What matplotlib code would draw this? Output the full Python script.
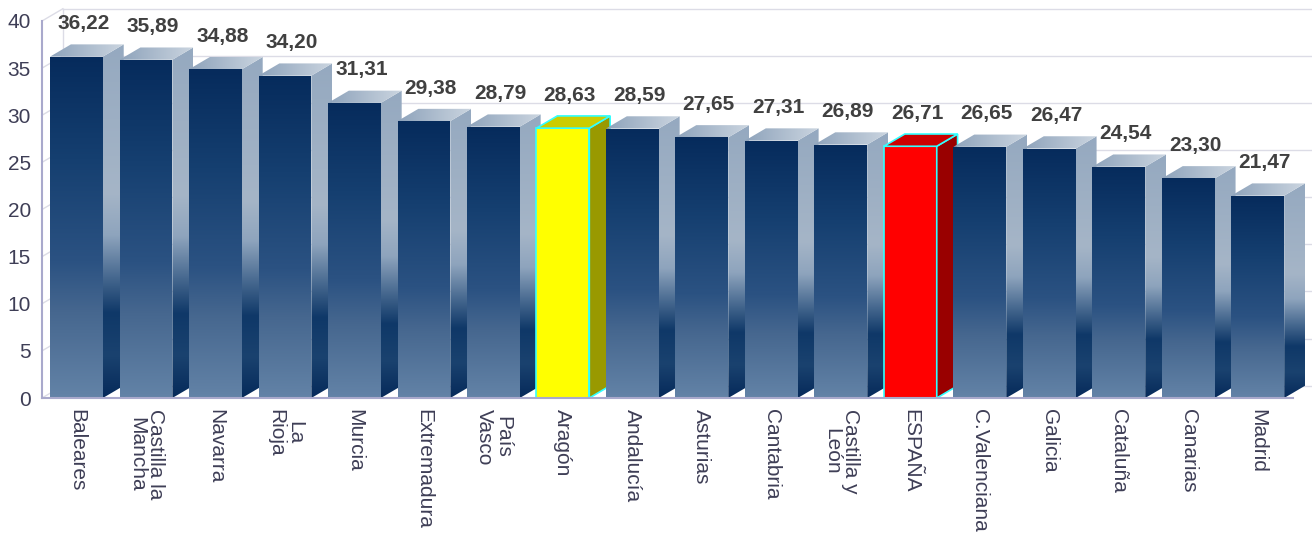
import numpy as np
import matplotlib.pyplot as plt
from matplotlib.patches import Polygon
from matplotlib.colors import LinearSegmentedColormap

plt.rcParams['font.family'] = ['Liberation Sans', 'DejaVu Sans']

regions = ['Baleares', 'Castilla la\nMancha', 'Navarra', 'La\nRioja', 'Murcia',
           'Extremadura', 'País\nVasco', 'Aragón', 'Andalucía', 'Asturias',
           'Cantabria', 'Castilla y\nLeón', 'ESPAÑA', 'C.Valenciana', 'Galicia',
           'Cataluña', 'Canarias', 'Madrid']
values = [36.22, 35.89, 34.88, 34.20, 31.31, 29.38, 28.79, 28.63, 28.59, 27.65,
          27.31, 26.89, 26.71, 26.65, 26.47, 24.54, 23.30, 21.47]
yticks = [0, 5, 10, 15, 20, 25, 30, 35, 40]

# solid colours for highlighted bars: front, top, side
special = {'Aragón': ('#ffff00', '#cccc00', '#999900'),
           'ESPAÑA': ('#ff0000', '#cc0000', '#990000')}

front_cm = LinearSegmentedColormap.from_list('front', [
    (0.0, '#6383a7'), (0.25, '#46678f'), (0.4, '#2b5282'),
    (0.7, '#153f70'), (1.0, '#062b5c')])
side_cm = LinearSegmentedColormap.from_list('side', [
    (0.0, '#062a5a'), (0.12, '#1a426f'), (0.24, '#0f3868'),
    (0.34, '#46688f'), (0.46, '#8ea4bd'), (0.58, '#a5b5c7'), (1.0, '#95a9c0')])
top_cm = LinearSegmentedColormap.from_list('top', ['#8ea3bb', '#cbd5e0'])

fig = plt.figure(figsize=(13.12, 5.38), dpi=100)
ax = fig.add_axes([42 / 1312, 140 / 538, 1270 / 1312, 42 * 9.425 / 538])
xmin, xmax = -0.496, 17.78
ax.set_xlim(xmin, xmax)
ax.set_ylim(0, 42)
for s in ax.spines.values():
    s.set_visible(False)

w = 0.38      # half width of the front face
dx, dy = 0.30, 1.3   # depth offset

# back wall and grid
grid_c = '#dcdce6'
for v in yticks:
    ax.plot([xmin, xmin + dx], [v, v + dy], color=grid_c, lw=1, zorder=0.5, clip_on=False)
    ax.plot([xmin + dx, xmax], [v + dy, v + dy], color=grid_c, lw=1, zorder=0.5, clip_on=False)
ax.plot([xmin + dx, xmin + dx], [dy, 40 + dy], color=grid_c, lw=1, zorder=0.5)

grad_v = np.linspace(0, 1, 256).reshape(-1, 1)
grad_h = np.linspace(0, 1, 256).reshape(1, -1)

for i, (name, v) in enumerate(zip(regions, values)):
    z = 2 + i
    x0, x1 = i - w, i + w
    front = Polygon([(x0, 0), (x1, 0), (x1, v), (x0, v)], closed=True)
    side = Polygon([(x1, 0), (x1 + dx, dy), (x1 + dx, v + dy), (x1, v)], closed=True)
    top = Polygon([(x0, v), (x1, v), (x1 + dx, v + dy), (x0 + dx, v + dy)], closed=True)
    if name in special:
        fc, tc, sc = special[name]
        for p, c in ((front, fc), (side, sc), (top, tc)):
            p.set_facecolor(c)
            p.set_edgecolor('#33ffff')
            p.set_linewidth(1.2)
            p.set_zorder(z)
            ax.add_patch(p)
    else:
        for p, cm, ext, g in ((front, front_cm, (x0, x1, 0, v), grad_v),
                              (side, side_cm, (x1, x1 + dx, 0, v + dy), grad_v),
                              (top, top_cm, (x0, x1 + dx, v, v + dy), grad_h)):
            p.set_facecolor('none')
            p.set_edgecolor('none')
            p.set_zorder(z)
            ax.add_patch(p)
            im = ax.imshow(g, cmap=cm, extent=ext, origin='lower',
                           aspect='auto', zorder=z, interpolation='bilinear')
            im.set_clip_path(p)
    ax.text(i + 0.1, v + dy + 1.2, f'{v:.2f}'.replace('.', ','), ha='center',
            va='bottom', fontsize=15, fontweight='bold', color='#404040', zorder=40)

ax.set_xlim(xmin, xmax)
ax.set_ylim(0, 42)

# axis lines
axis_c = '#a9a9cc'
ax.plot([xmin, xmin], [0, 40], color=axis_c, lw=1.5, zorder=30, clip_on=False)
ax.plot([xmin, 17.5], [0, 0], color=axis_c, lw=1.5, zorder=30, clip_on=False)

ax.set_yticks(yticks)
ax.set_yticklabels([str(t) for t in yticks], fontsize=15, color='#3e3e56')
ax.tick_params(axis='y', length=0, pad=8)
ax.set_xticks(range(len(regions)))
ax.set_xticklabels(regions, rotation=270, fontsize=15, color='#3e3e56',
                   linespacing=1.0)
ax.tick_params(axis='x', length=0, pad=8)

fig.savefig('out.png', dpi=100)
